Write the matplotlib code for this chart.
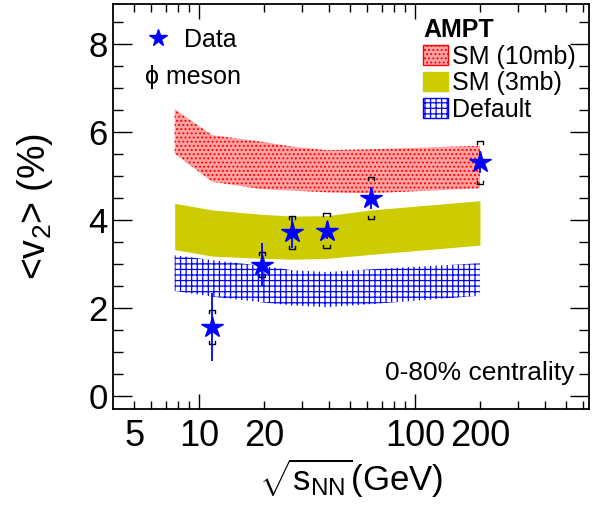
import numpy as np
import matplotlib
matplotlib.use("Agg")
import matplotlib.pyplot as plt
from matplotlib.patches import Patch
from matplotlib.lines import Line2D
from matplotlib.ticker import FixedLocator, FuncFormatter

plt.rcParams['font.family'] = ['Liberation Sans', 'DejaVu Sans']
plt.rcParams['mathtext.fontset'] = 'custom'
plt.rcParams['mathtext.rm'] = 'Liberation Sans'
plt.rcParams['mathtext.it'] = 'Liberation Sans'
plt.rcParams['hatch.linewidth'] = 0.9

# phi meson <v2> vs collision energy
energy = [11.5, 19.6, 27.0, 39.0, 62.4, 200.0]
v2 = [1.56, 2.98, 3.71, 3.75, 4.50, 5.30]
v2_stat = [0.78, 0.48, 0.35, 0.20, 0.25, 0.25]
v2_sys = [0.38, 0.28, 0.38, 0.40, 0.48, 0.49]

# AMPT model bands
band_energy = [7.7, 11.5, 19.6, 27.0, 39.0, 62.4, 200.0]
sm10_hi = [6.51, 5.92, 5.77, 5.66, 5.58, 5.60, 5.68]
sm10_lo = [5.50, 4.86, 4.69, 4.66, 4.62, 4.60, 4.71]
sm3_hi = [4.37, 4.22, 4.12, 4.08, 4.09, 4.22, 4.43]
sm3_lo = [3.32, 3.17, 3.12, 3.10, 3.12, 3.21, 3.42]
def_hi = [3.19, 3.08, 2.95, 2.85, 2.81, 2.87, 3.01]
def_lo = [2.38, 2.25, 2.12, 2.05, 2.01, 2.08, 2.27]

xtick_major = [10, 100]
xtick_minor = [5, 6, 7, 8, 9, 20, 30, 40, 50, 60, 70, 80, 90, 200, 300, 400, 500, 600]
xtick_labeled = [5, 10, 20, 100, 200]

fig = plt.figure(figsize=(5.94, 5.08), dpi=100)
ax = fig.add_axes([0.1907, 0.1943, 0.8008, 0.7978])
ax.set_xscale('log')

red_style = dict(facecolor='#ffa3a3', edgecolor='#ff0000', hatch='....', linewidth=0)
yel_style = dict(facecolor='#cccc00', edgecolor='#cccc00', linewidth=0)
blue_style = dict(facecolor='white', edgecolor='#0000ff', hatch='+++', linewidth=0)

ax.fill_between(band_energy, sm10_lo, sm10_hi, zorder=1, **red_style)
ax.fill_between(band_energy, sm3_lo, sm3_hi, zorder=1, **yel_style)
ax.fill_between(band_energy, def_lo, def_hi, zorder=1, **blue_style)

# systematic brackets
e = np.array(energy)
y = np.array(v2)
s = np.array(v2_sys)
w = 1.035
leg = 0.07
for xi, yi, si in zip(e, y, s):
    for sign in (1, -1):
        yb = yi + sign * si
        ax.plot([xi / w, xi / w, xi * w, xi * w],
                [yb - sign * leg, yb, yb, yb - sign * leg],
                color='black', lw=1.0, zorder=3)

ax.errorbar(energy, v2, yerr=v2_stat, fmt='*', color='#0000ff', ms=16,
            elinewidth=1.3, capsize=0, zorder=4)

ax.set_xlim(4, 640)
ax.set_ylim(-0.31, 8.9)

ax.xaxis.set_major_locator(FixedLocator(xtick_major))
ax.xaxis.set_minor_locator(FixedLocator(xtick_minor))
ax.xaxis.set_major_formatter(FuncFormatter(lambda v, p: '%d' % v))
ax.xaxis.set_minor_formatter(FuncFormatter(lambda v, p: '%d' % v if v in xtick_labeled else ''))
ax.set_yticks([0, 2, 4, 6, 8])
ax.set_yticks(np.arange(0, 9, 0.5), minor=True)

ax.tick_params(axis='x', which='both', direction='in', top=True, labelsize=26, pad=7)
ax.tick_params(axis='x', which='major', length=11, width=1)
ax.tick_params(axis='x', which='minor', length=6, width=1)
ax.tick_params(axis='y', which='both', direction='in', right=True, labelsize=25, pad=4)
ax.tick_params(axis='y', which='major', length=14, width=1)
ax.tick_params(axis='y', which='minor', length=7, width=1)
for sp in ax.spines.values():
    sp.set_linewidth(1.3)

ax.set_xlabel(r'$\sqrt{\mathrm{s}_{\mathrm{NN}}}$(GeV)', fontsize=25, labelpad=2)
ax.set_ylabel(r'<v$_2$> (%)', fontsize=27, labelpad=24)

# legends
data_leg = ax.legend([Line2D([], [], marker='*', ls='none', color='#0000ff', ms=13)], ['Data'],
                     loc='center left', bbox_to_anchor=(0.068, 0.911), frameon=False,
                     fontsize=18, borderpad=0, borderaxespad=0, handlelength=1.0,
                     handletextpad=0.55)
ax.add_artist(data_leg)
ax.text(0.066, 0.82, '\u03d5 meson', transform=ax.transAxes, fontsize=18, va='center', ha='left')

handles = [Patch(**red_style), Patch(**yel_style), Patch(**blue_style)]
for h in handles:
    h.set_linewidth(1.0)
amp = ax.legend(handles, ['SM (10mb)', 'SM (3mb)', 'Default'], title='AMPT',
                title_fontproperties={'weight': 'bold', 'size': 18}, alignment='left',
                loc='upper left', bbox_to_anchor=(0.651, 0.965), frameon=False, fontsize=18,
                borderpad=0, borderaxespad=0, handlelength=1.0, handleheight=0.8,
                handletextpad=0.15, labelspacing=0.1)

ax.text(0.97, 0.09, '0-80% centrality', transform=ax.transAxes, fontsize=19,
        ha='right', va='center')

fig.savefig('out.png', dpi=100)
